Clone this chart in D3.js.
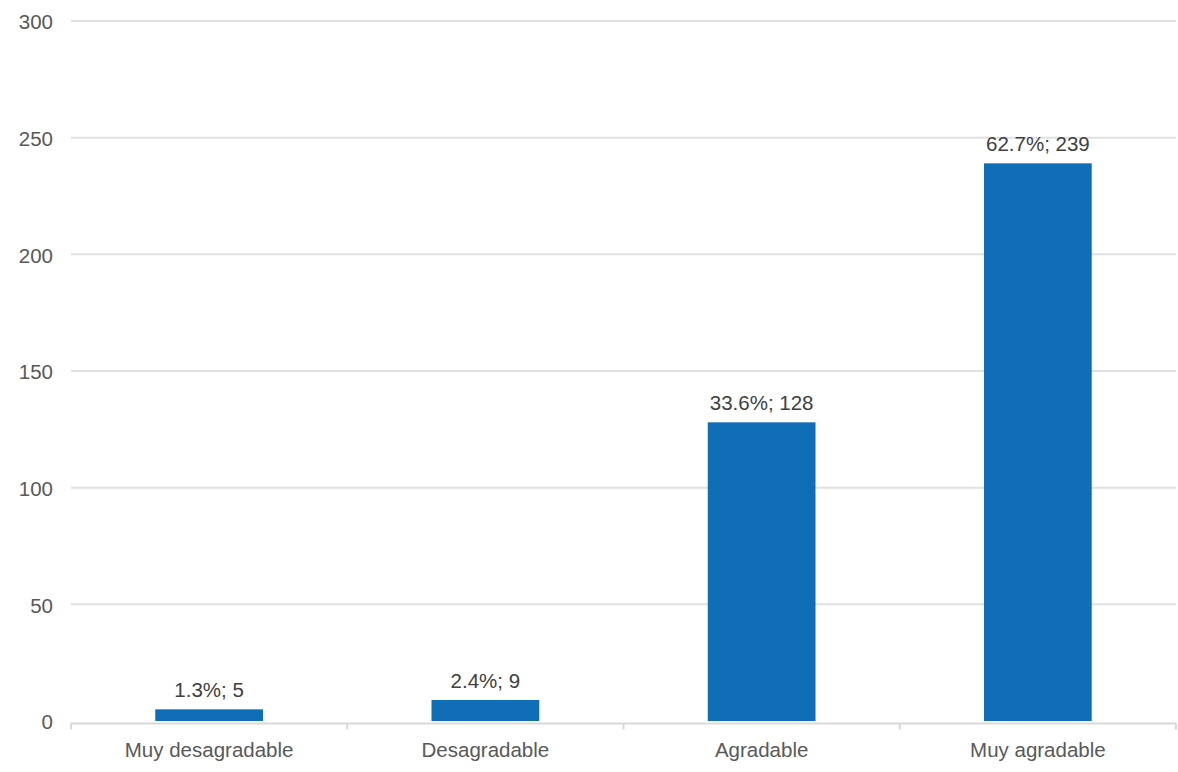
<!DOCTYPE html>
<html><head><meta charset="utf-8">
<script src="https://cdn.jsdelivr.net/npm/d3@7"></script>
<style>body{margin:0;background:#fff;}text{font-family:"Liberation Sans",Arial,sans-serif;}</style>
</head><body><svg id="c" width="1178" height="772"></svg>
<script>
const categories = ["Muy desagradable", "Desagradable", "Agradable", "Muy agradable"];
const values = [5, 9, 128, 239];
const percents = ["1.3%", "2.4%", "33.6%", "62.7%"];
const yTicks = [0, 50, 100, 150, 200, 250, 300];

const svg = d3.select("#c");
const m = {l: 71, r: 2, t: 21, b: 51};
const W = 1178, H = 772;
const x = d3.scaleBand().domain(categories).range([m.l, W - m.r]).paddingInner(0.61).paddingOuter(0.305);
const xb = d3.scaleBand().domain(categories).range([m.l, W - m.r]);
const y = d3.scaleLinear().domain([0, 300]).range([H - m.b, m.t]);
const FS = 20.5;

// gridlines
svg.append("g").selectAll("line").data(yTicks.filter(d => d > 0)).join("line")
  .attr("x1", m.l).attr("x2", W - m.r)
  .attr("y1", d => y(d)).attr("y2", d => y(d))
  .attr("stroke", "#e0e0e0").attr("stroke-width", 2);

// y labels
svg.append("g").selectAll("text").data(yTicks).join("text")
  .attr("x", 53).attr("y", d => y(d) + 1).attr("dy", "0.35em")
  .attr("text-anchor", "end").attr("fill", "#595959").attr("font-size", FS)
  .text(d => d);

// bars
svg.append("g").selectAll("rect").data(values).join("rect")
  .attr("x", (d, i) => x(categories[i])).attr("width", x.bandwidth())
  .attr("y", d => y(d)).attr("height", d => y(0) - y(d))
  .attr("fill", "#106eb6");

// x axis line and ticks
const axY = y(0) + 2.5;
svg.append("line").attr("x1", m.l).attr("x2", W - m.r).attr("y1", axY).attr("y2", axY)
  .attr("stroke", "#d9d9d9").attr("stroke-width", 2);
const tickPos = categories.map(c => xb(c)).concat([W - m.r]);
svg.append("g").selectAll("line").data(tickPos).join("line")
  .attr("x1", d => d).attr("x2", d => d).attr("y1", axY).attr("y2", axY + 6)
  .attr("stroke", "#d9d9d9").attr("stroke-width", 2);

// x labels
svg.append("g").selectAll("text").data(categories).join("text")
  .attr("x", d => xb(d) + xb.bandwidth() / 2).attr("y", 757)
  .attr("text-anchor", "middle").attr("fill", "#595959").attr("font-size", FS)
  .text(d => d);

// data labels
svg.append("g").selectAll("text").data(values).join("text")
  .attr("x", (d, i) => x(categories[i]) + x.bandwidth() / 2)
  .attr("y", d => y(d) - 12)
  .attr("text-anchor", "middle").attr("fill", "#404040").attr("font-size", FS)
  .text((d, i) => percents[i] + "; " + d);
</script></body></html>
